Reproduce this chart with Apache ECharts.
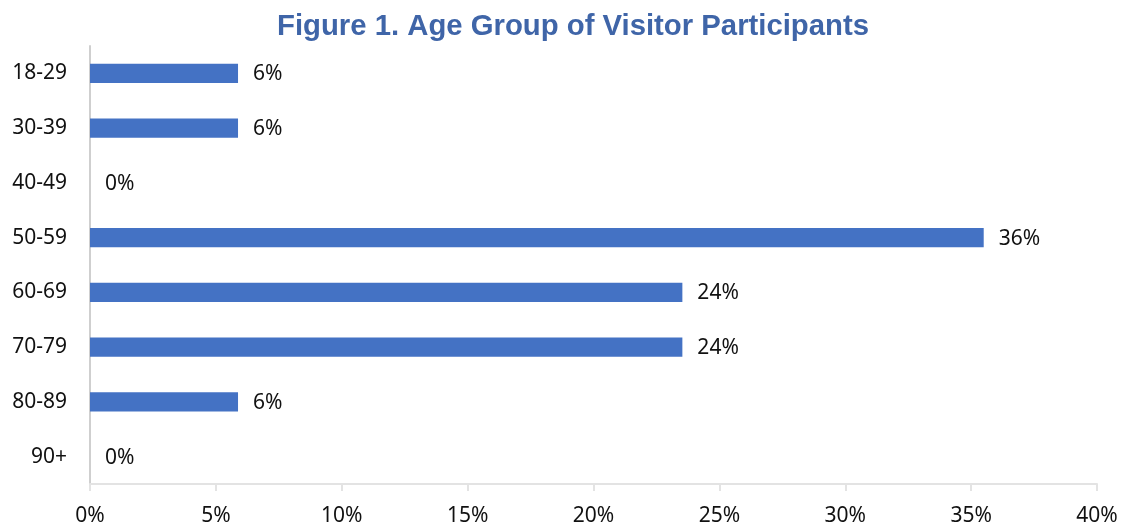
<!DOCTYPE html>
<html>
<head>
<meta charset="utf-8">
<script src="https://cdn.jsdelivr.net/npm/echarts@6/dist/echarts.min.js"></script>
<style>
  html, body { margin: 0; padding: 0; background: #fff; }
  #chart { width: 1122px; height: 527px; }
</style>
</head>
<body>
<div id="chart"></div>
<script>
// Age groups, listed top to bottom
const ageGroups = ['18-29', '30-39', '40-49', '50-59', '60-69', '70-79', '80-89', '90+'];
// Share of visitor participants in each group (percent)
const sharePct = [5.88, 5.88, 0, 35.5, 23.53, 23.53, 5.88, 0];
// Value axis ticks (percent)
const axisMax = 40;
const axisStep = 5;

const chart = echarts.init(document.getElementById('chart'));
const labelFont = '"Noto Sans", "Open Sans", sans-serif';

chart.setOption({
  animation: false,
  title: {
    text: 'Figure 1. Age Group of Visitor Participants',
    left: 272,
    top: 7,
    textStyle: {
      fontFamily: '"Liberation Sans", Arial, sans-serif',
      fontWeight: 'bold',
      fontSize: 29.3,
      color: '#3F65A8'
    }
  },
  grid: { left: 90, right: 25, top: 46, bottom: 42, containLabel: false },
  xAxis: {
    type: 'value',
    min: 0,
    max: axisMax,
    interval: axisStep,
    axisLine: { show: true, lineStyle: { color: '#e3e3e3', width: 2 } },
    axisTick: { show: true, length: 7, lineStyle: { color: '#e3e3e3', width: 2 } },
    splitLine: { show: false },
    axisLabel: {
      formatter: v => v + '%',
      fontFamily: labelFont,
      fontSize: 21,
      color: '#111',
      margin: 22
    }
  },
  yAxis: {
    type: 'category',
    data: ageGroups,
    inverse: true,
    axisLine: { show: true, lineStyle: { color: '#cfcfcf', width: 2 } },
    axisTick: { show: false },
    axisLabel: {
      fontFamily: labelFont,
      fontSize: 21,
      color: '#111',
      margin: 23
    }
  },
  series: [{
    type: 'bar',
    data: sharePct,
    barWidth: '35%',
    itemStyle: { color: '#4472C4' },
    label: {
      show: true,
      position: 'right',
      distance: 15,
      formatter: p => Math.round(p.value) + '%',
      fontFamily: labelFont,
      fontSize: 21,
      color: '#111',
      offset: [0, 1]
    }
  }]
});
</script>
</body>
</html>
